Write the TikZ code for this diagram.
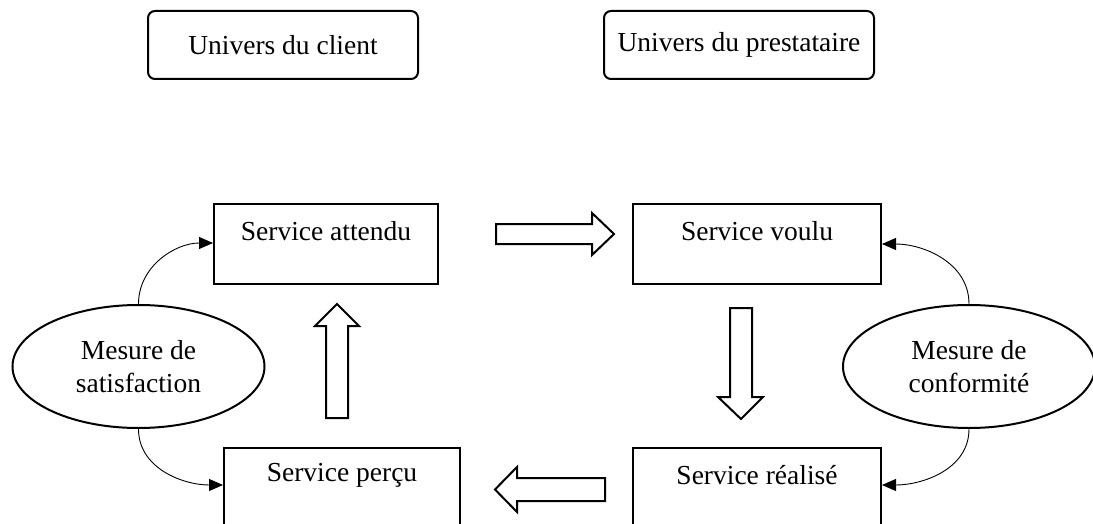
\documentclass[tikz,border=0pt]{standalone}
\usepackage{fontspec}
\setmainfont{Liberation Serif}
\usetikzlibrary{shapes.geometric,arrows.meta}
\begin{document}
\begin{tikzpicture}[x=1pt,y=-1pt,
  every node/.style={font=\fontsize{27.5}{33}\selectfont},
  universe/.style={draw,line width=2pt,rounded corners=7pt,minimum width=270pt,minimum height=68pt,anchor=north west},
  stage/.style={draw,line width=2pt,anchor=north west,minimum height=80pt},
  measure/.style={draw,ellipse,line width=2pt,minimum width=252pt,minimum height=123pt,align=center,inner sep=0pt},
  loop/.style={line width=0.9pt,-{Triangle[length=14pt,width=12pt]}},
  bigarrow/.style={draw,line width=2pt,fill=white,line join=miter}]
\useasboundingbox (0,0) rectangle (1093,524);

% universes
\node[universe] (client) at (147,10) {Univers du client};
\node[universe] (prest) at (603,10) {Univers du prestataire};

% service stages, text set near the top of each frame
\node[stage,minimum width=224pt,label={[anchor=center,yshift=-28pt]north:Service attendu}] (attendu) at (213,203) {};
\node[stage,minimum width=248pt,label={[anchor=center,yshift=-28pt]north:Service voulu}] (voulu) at (632,203) {};
\node[stage,minimum width=236pt,label={[anchor=center,yshift=-28pt]north:Service perçu}] (percu) at (223,447) {};
\node[stage,minimum width=248pt,label={[anchor=center,yshift=-28pt]north:Service réalisé}] (realise) at (632,447) {};

% measurements
\node[measure] (satis) at (138.5,366.5) {Mesure de\\satisfaction};
\node[measure] (conf) at (969,366.5) {Mesure de\\conformité};

% feedback loops
\draw[loop] (satis.north) to[out=90,in=180] (attendu.west |- 0,243);
\draw[loop] (satis.south) to[out=-90,in=180] (percu.west |- 0,485);
\draw[loop] (conf.north) to[out=90,in=0] (voulu.east |- 0,244);
\draw[loop] (conf.south) to[out=-90,in=0] (realise.east |- 0,485);

% block arrows between stages
\draw[bigarrow] (496,224) -- (592,224) -- (592,213) -- (614,234) -- (592,255) -- (592,244) -- (496,244) -- cycle;
\draw[bigarrow] (730,308) -- (752,308) -- (752,397) -- (763,397) -- (741,419) -- (718,397) -- (730,397) -- cycle;
\draw[bigarrow] (605,478) -- (517,478) -- (517,467) -- (495,489.5) -- (517,512) -- (517,501) -- (605,501) -- cycle;
\draw[bigarrow] (326,418) -- (326,326) -- (315,326) -- (337,304) -- (359,326) -- (348,326) -- (348,418) -- cycle;
\end{tikzpicture}
\end{document}
